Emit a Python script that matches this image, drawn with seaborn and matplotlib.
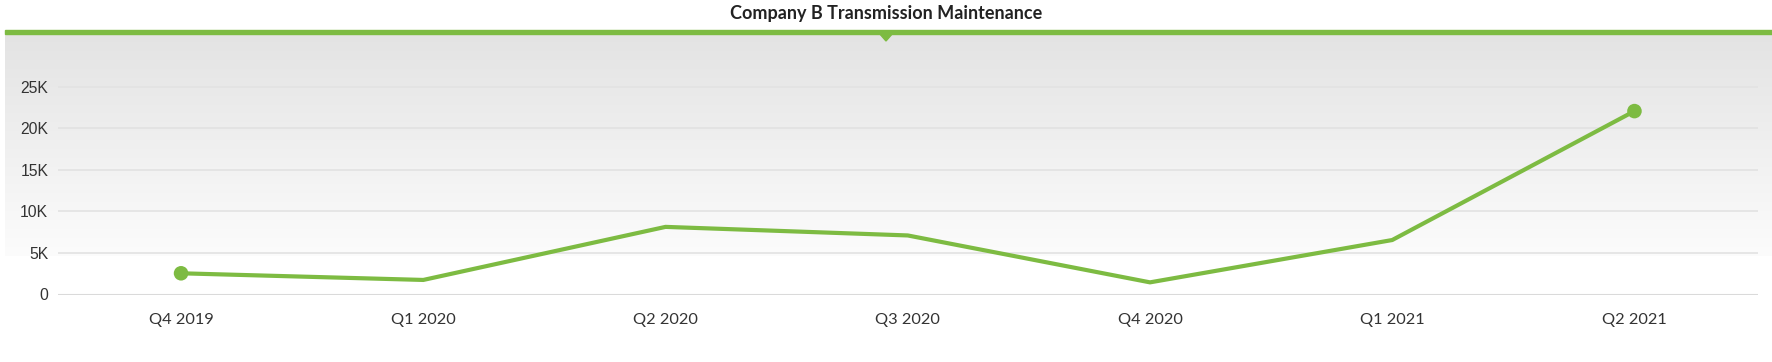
import numpy as np
import pandas as pd
import matplotlib.pyplot as plt
import seaborn as sns
from matplotlib.patches import Polygon, Rectangle

# data
quarters = ['Q4 2019', 'Q1 2020', 'Q2 2020', 'Q3 2020', 'Q4 2020', 'Q1 2021', 'Q2 2021']
values = [2550, 1750, 8130, 7100, 1460, 6550, 22050]
y_ticks = [0, 5000, 10000, 15000, 20000, 25000]
y_labels = ['0', '5K', '10K', '15K', '20K', '25K']

GREEN = '#7dbb42'
W, H = 1772, 362

df = pd.DataFrame({'quarter': quarters, 'value': values})
df['pos'] = range(len(df))

sns.set_style('white')
plt.rcParams['font.family'] = ['Lato', 'DejaVu Sans']

fig = plt.figure(figsize=(W / 100, H / 100), dpi=100)

# gradient band behind the plot
bg = fig.add_axes([5 / W, 1 - 256 / H, 1 - 5 / W, (256 - 33) / H], zorder=0)
grad = np.linspace(0, 1, 256).reshape(-1, 1)
bg.imshow(grad, aspect='auto', cmap=plt.matplotlib.colors.LinearSegmentedColormap.from_list(
    'bg', ['#e3e3e3', '#fcfcfc']), extent=[0, 1, 0, 1])
bg.axis('off')

# green bar + marker under the title
fig.patches.append(Rectangle((5 / W, 1 - 34 / H), 1 - 5 / W, 4 / H, transform=fig.transFigure,
                             color=GREEN, zorder=3))
cx = 886 / W
fig.patches.append(Polygon([[cx - 7 / W, 1 - 33 / H], [cx + 7 / W, 1 - 33 / H], [cx, 1 - 41 / H]],
                           closed=True, transform=fig.transFigure, color=GREEN, zorder=3))

fig.text(cx, 1 - 14 / H, 'Company B Transmission Maintenance', ha='center', va='center',
         fontsize=13, fontweight='bold', color='#222222')

ax = fig.add_axes([58 / W, 1 - 294.5 / H, (1758 - 58) / W, (294.5 - 35) / H], zorder=1)
ax.patch.set_alpha(0)

sns.lineplot(data=df, x='pos', y='value', color=GREEN, linewidth=3, ax=ax, zorder=3)
ends = df.iloc[[0, -1]]
sns.scatterplot(data=ends, x='pos', y='value', color=GREEN, s=110, edgecolor='none', ax=ax, zorder=4)

ax.set_xlim(-0.508, len(quarters) - 1 + 0.51)
ax.set_ylim(0, 31200)
ax.set_xticks(df['pos'])
ax.set_xticklabels(quarters, fontsize=11.8, color='#333333')
ax.set_yticks(y_ticks)
ax.set_yticklabels(y_labels, fontsize=11.3, color='#333333', fontfamily='Liberation Sans')
ax.tick_params(axis='both', length=0)
ax.tick_params(axis='y', pad=7)
ax.tick_params(axis='x', pad=13)
ax.grid(axis='y', color='#e2e2e2', linewidth=1.2)
ax.set_axisbelow(True)
for s in ax.spines.values():
    s.set_visible(False)
ax.axhline(0, color='#dadada', linewidth=1.5, zorder=2)
ax.set_xlabel('')
ax.set_ylabel('')

fig.savefig('out.png', dpi=100)
